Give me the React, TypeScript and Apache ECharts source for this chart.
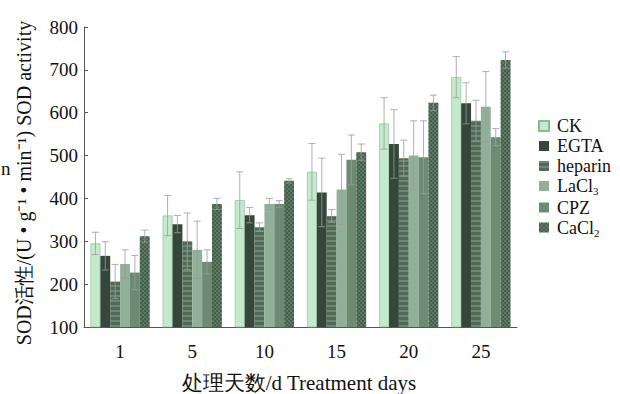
import React, { useEffect, useRef } from "react";
import * as echarts from "echarts";

const categories = ["1", "5", "10", "15", "20", "25"];
const seriesNames = ["CK", "EGTA", "heparin", "LaCl3", "CPZ", "CaCl2"];
const ckValues = [295, 360, 396, 462, 575, 683];
const ckErr = [26, 47, 66, 66, 60, 48];
const egtaValues = [266, 340, 361, 414, 527, 622];
const egtaErr = [33, 20, 18, 80, 80, 48];
const heparinValues = [206, 300, 333, 359, 494, 581];
const heparinErr = [40, 66, 10, 15, 42, 48];
const lacl3Values = [247, 280, 387, 421, 500, 614];
const lacl3Err = [33, 67, 13, 82, 81, 82];
const cpzValues = [227, 252, 387, 490, 496, 543];
const cpzErr = [40, 28, 8, 58, 85, 20];
const cacl2Values = [312, 387, 441, 508, 623, 723];
const cacl2Err = [14, 13, 5, 19, 18, 19];
const yTicks = { min: 100, max: 800, interval: 100 };

const allValues = [ckValues, egtaValues, heparinValues, lacl3Values, cpzValues, cacl2Values];
const allErr = [ckErr, egtaErr, heparinErr, lacl3Err, cpzErr, cacl2Err];

const colors = ["#c3eacb", "#34473a", "#4f6a57", "#92b099", "#6d8a73", "#5b7a62"];
const GAP = 0.18;
const SERIF = "'Liberation Serif', 'Times New Roman', serif";

export default function App() {
  const ref = useRef<HTMLDivElement>(null);
  useEffect(() => {
    if (!ref.current) return;
    const chart = echarts.init(ref.current, undefined, { renderer: "svg" });
    const decals: any[] = [
      null,
      null,
      { symbol: "rect", dashArrayX: [1, 0], dashArrayY: [2, 3], color: "rgba(255,255,255,0.18)" },
      null,
      null,
      { symbol: "circle", symbolSize: 0.8, dashArrayX: [[2, 2], [0, 2, 2, 0]], dashArrayY: [2, 0], color: "rgba(0,0,0,0.35)" },
    ];
    const barSeries = seriesNames.map((name, i) => ({
      name,
      type: "bar",
      data: allValues[i],
      barGap: "0%",
      barCategoryGap: GAP * 100 + "%",
      itemStyle: {
        color: colors[i],
        borderColor: i === 0 ? "#8db896" : undefined,
        borderWidth: i === 0 ? 0.6 : 0,
        decal: decals[i] || undefined,
      },
    }));
    const errData: number[][] = [];
    seriesNames.forEach((_, s) => {
      allValues[s].forEach((v, c) => errData.push([c, s, v, allErr[s][c]]));
    });
    const errSeries = {
      type: "custom",
      name: "err",
      data: errData,
      encode: { x: 0, y: 2 },
      z: 10,
      renderItem: (params: any, api: any) => {
        const cat = api.value(0);
        const s = api.value(1);
        const v = api.value(2);
        const e = api.value(3);
        const bandW = api.size([1, 0])[0];
        const bw = (bandW * (1 - GAP)) / 6;
        const c = api.coord([cat, v]);
        const x = c[0] + (s - 2.5) * bw;
        const top = api.coord([cat, v + e])[1];
        const bot = api.coord([cat, v - e])[1];
        const st = { stroke: "#9a9a9a", lineWidth: 0.8 };
        return {
          type: "group",
          children: [
            { type: "line", shape: { x1: x, y1: top, x2: x, y2: bot }, style: st },
            { type: "line", shape: { x1: x - 3.5, y1: top, x2: x + 3.5, y2: top }, style: st },
            { type: "line", shape: { x1: x - 3.5, y1: bot, x2: x + 3.5, y2: bot }, style: st },
          ],
        };
      },
    };
    chart.setOption({
      animation: false,
      grid: { left: 84, top: 27, right: 103, bottom: 67 },
      legend: {
        data: seriesNames,
        orient: "vertical",
        left: 533,
        top: 112,
        icon: "rect",
        itemWidth: 10,
        itemHeight: 10,
        itemGap: 2,
        textStyle: {
          fontFamily: SERIF,
          fontSize: 18,
          color: "#111",
          padding: [0, 0, 0, 3],
          rich: {
            s: { fontFamily: SERIF, fontSize: 11, color: "#111", padding: [10, 0, 0, 0] },
          },
        },
        formatter: (name: string) =>
          name === "LaCl3" ? "LaCl{s|3}" : name === "CaCl2" ? "CaCl{s|2}" : name,
      },
      xAxis: {
        type: "category",
        data: categories,
        axisLine: { lineStyle: { color: "#555", width: 1 } },
        axisTick: { show: false },
        axisLabel: { fontFamily: SERIF, fontSize: 19, color: "#111", margin: 15 },
      },
      yAxis: {
        type: "value",
        min: yTicks.min,
        max: yTicks.max,
        interval: yTicks.interval,
        axisLine: { show: true, lineStyle: { color: "#555", width: 1 } },
        axisTick: { show: true, inside: true, length: 4, lineStyle: { color: "#555" } },
        splitLine: { show: false },
        axisLabel: { fontFamily: SERIF, fontSize: 19, color: "#111", margin: 6 },
      },
      graphic: [
        {
          type: "text",
          x: 24,
          y: 183,
          rotation: Math.PI / 2,
          style: {
            text: "SOD活性/(U • g⁻¹ • min⁻¹) SOD activity",
            fontFamily: SERIF,
            fontSize: 20,
            fill: "#111",
            align: "center",
            verticalAlign: "middle",
          },
        },
        {
          type: "text",
          x: 1,
          y: 168,
          style: { text: "n", fontFamily: SERIF, fontSize: 19, fill: "#111", verticalAlign: "middle" },
        },
        {
          type: "text",
          x: 299,
          y: 383,
          style: {
            text: "处理天数/d Treatment days",
            fontFamily: SERIF,
            fontSize: 21,
            fill: "#111",
            align: "center",
            verticalAlign: "middle",
          },
        },
      ],
      series: [...barSeries, errSeries],
    });
    return () => chart.dispose();
  }, []);
  return <div ref={ref} style={{ width: 620, height: 394, position: "absolute", left: 0, top: 0 }} />;
}
